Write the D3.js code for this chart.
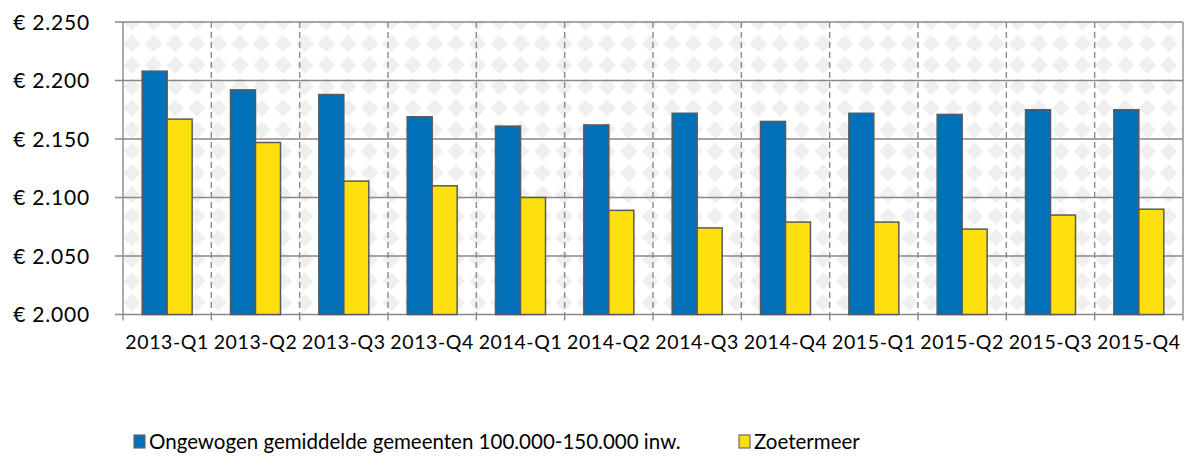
<!DOCTYPE html>
<html>
<head>
<meta charset="utf-8">
<script src="https://cdn.jsdelivr.net/npm/d3@7"></script>
<style>
  body { margin: 0; background: #fff; }
  text { font-family: Lato, "Open Sans", sans-serif; fill: #000; }
</style>
</head>
<body>
<script>
var quarters = ['2013-Q1','2013-Q2','2013-Q3','2013-Q4','2014-Q1','2014-Q2','2014-Q3','2014-Q4','2015-Q1','2015-Q2','2015-Q3','2015-Q4']
var gemiddelde = [2208, 2192, 2188, 2169, 2161, 2162, 2172, 2165, 2172, 2171, 2175, 2175]
var zoetermeer = [2167, 2147, 2114, 2110, 2100, 2089, 2074, 2079, 2079, 2073, 2085, 2090]
var seriesNames = ['Ongewogen gemiddelde gemeenten 100.000-150.000 inw.', 'Zoetermeer']
var seriesColors = ['#0070b8', '#ffe00f']
var yTicks = [2000, 2050, 2100, 2150, 2200, 2250]

var rows = quarters.map(function(q, i){ return {q: q, vals: [gemiddelde[i], zoetermeer[i]]} })

var W = 1184, H = 461
var margin = {left: 123, right: 1, top: 22, bottom: 146.5}
var width = W - margin.left - margin.right
var height = H - margin.top - margin.bottom

var svg = d3.select('body').append('svg').attr('width', W).attr('height', H)

var defs = svg.append('defs')
var pat = defs.append('pattern')
  .attr('id', 'diamonds')
  .attr('patternUnits', 'userSpaceOnUse')
  .attr('width', 21.6).attr('height', 21.6)
  .attr('x', margin.left + 4.8).attr('y', margin.top + 10.2)
pat.append('rect').attr('width', 21.6).attr('height', 21.6).attr('fill', '#fff')
pat.append('path').attr('d', 'M10.8,2 L19.6,10.8 L10.8,19.6 L2,10.8 Z').attr('fill', '#efefef')

var g = svg.append('g').attr('transform', 'translate(' + margin.left + ',' + margin.top + ')')

var x0 = d3.scaleBand().domain(quarters).range([0, width]).paddingInner(0).paddingOuter(0)
var x1 = d3.scaleBand().domain([0, 1]).range([0, x0.bandwidth()]).paddingInner(0).paddingOuter(0.767)
var y = d3.scaleLinear().domain([2000, 2250]).range([height, 0])

g.append('rect').attr('width', width).attr('height', height).attr('fill', 'url(#diamonds)')

// horizontal grid
g.selectAll('line.hgrid').data(yTicks).enter().append('line')
  .attr('class', 'hgrid')
  .attr('x1', -8).attr('x2', width)
  .attr('y1', function(d){ return y(d) }).attr('y2', function(d){ return y(d) })
  .attr('stroke', '#898989').attr('stroke-width', 1.4)

// vertical dashed separators
g.selectAll('line.vgrid').data(quarters.slice(1)).enter().append('line')
  .attr('class', 'vgrid')
  .attr('x1', function(d){ return x0(d) }).attr('x2', function(d){ return x0(d) })
  .attr('y1', 0).attr('y2', height)
  .attr('stroke', '#8a8a8a').attr('stroke-width', 1.4).attr('stroke-dasharray', '6,4')

// right border
g.append('line').attr('x1', width).attr('x2', width).attr('y1', 0).attr('y2', height)
  .attr('stroke', '#8a8a8a').attr('stroke-width', 1.4)

// bars
var groups = g.selectAll('g.grp').data(rows).enter().append('g')
  .attr('transform', function(d){ return 'translate(' + x0(d.q) + ',0)' })
groups.selectAll('rect').data(function(d){ return d.vals }).enter().append('rect')
  .attr('x', function(d, i){ return x1(i) })
  .attr('width', x1.bandwidth())
  .attr('y', function(d){ return y(d) })
  .attr('height', function(d){ return height - y(d) })
  .attr('fill', function(d, i){ return seriesColors[i] })
  .attr('stroke', '#5a5a5a').attr('stroke-width', 1.5)

// left axis line
g.append('line').attr('x1', 0).attr('x2', 0).attr('y1', 0).attr('y2', height + 6)
  .attr('stroke', '#898989').attr('stroke-width', 1.4)

// x axis ticks
g.selectAll('line.xtick').data(quarters.slice(1)).enter().append('line')
  .attr('x1', function(d){ return x0(d) }).attr('x2', function(d){ return x0(d) })
  .attr('y1', height).attr('y2', height + 6)
  .attr('stroke', '#898989').attr('stroke-width', 1.4)
g.append('line').attr('x1', width).attr('x2', width).attr('y1', height).attr('y2', height + 6)
  .attr('stroke', '#898989').attr('stroke-width', 1.4)

// y labels
var fmt = function(d){ return '€ ' + d3.format(',')(d).replace(',', '.') }
g.selectAll('text.ylab').data(yTicks).enter().append('text')
  .attr('x', -33).attr('y', function(d){ return y(d) })
  .attr('dy', '0.36em').attr('text-anchor', 'end')
  .style('font-size', '21px').style('letter-spacing', '0.8px')
  .text(fmt)

// x labels
g.selectAll('text.xlab').data(quarters).enter().append('text')
  .attr('x', function(d){ return x0(d) + x0.bandwidth() / 2 })
  .attr('y', height + 34)
  .attr('text-anchor', 'middle')
  .style('font-size', '19.5px').style('letter-spacing', '0.6px')
  .text(function(d){ return d })

// legend
var legX = [134, 739]
var leg = svg.selectAll('g.leg').data(seriesNames).enter().append('g')
  .attr('transform', function(d, i){ return 'translate(' + legX[i] + ',435)' })
leg.append('rect').attr('width', 11).attr('height', 13)
  .attr('fill', function(d, i){ return seriesColors[i] })
  .attr('stroke', '#6a6a6a').attr('stroke-width', 1.2)
leg.append('text').attr('x', 15).attr('y', 6.5).attr('dy', '0.36em')
  .style('font-size', '20.5px')
  .text(function(d){ return d })
</script>
</body>
</html>
